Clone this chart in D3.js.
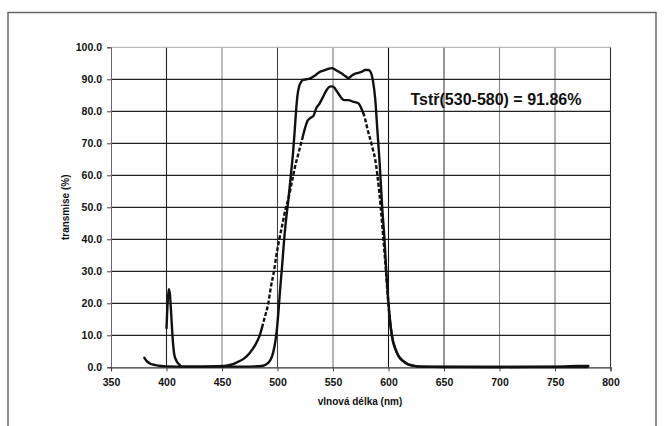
<!DOCTYPE html>
<html>
<head>
<meta charset="utf-8">
<script src="https://cdn.jsdelivr.net/npm/d3@7/dist/d3.min.js"></script>
<style>
  html, body { margin: 0; padding: 0; background: #fff; }
  svg { display: block; }
  text { font-family: "Liberation Sans", Arial, sans-serif; font-weight: bold; fill: #111; }
</style>
</head>
<body>
<svg id="chart" width="665" height="426"></svg>
<script>
// ---- data ----
const xTicks = [350, 400, 450, 500, 550, 600, 650, 700, 750, 800];
const yTicks = [0, 10, 20, 30, 40, 50, 60, 70, 80, 90, 100];
const xTitle = "vlnová délka (nm)";
const yTitle = "transmise (%)";
const annotation = "Tstř(530-580) = 91.86%";

// solid curve (upper plateau) : [wavelength nm, transmission %]
const curveSolid = [
  [380,3.0],[382,2.0],[385,1.2],[390,0.7],[395,0.4],[400,0.3],[420,0.2],[450,0.2],[470,0.2],
  [480,0.3],[485,0.4],[488,0.6],[491,1.2],[494,2.5],[496,4.5],[498,8],[499.5,12],[501,18],
  [502.5,25],[504,31],[506,40],[508,47],[510,53],[512,60],[514,67],[515.5,74],[516.7,80],
  [518,85],[519.5,87.8],[521,89],[523,89.8],[526,90],[529,90.2],[532,90.8],[535,91.5],
  [538,92.3],[542,92.8],[546,93.3],[549,93.5],[552,93.0],[555,92.4],[558,91.8],[561,91],
  [564,90.4],[567,91.2],[570,91.8],[573,92.0],[576,92.4],[579,92.9],[582,92.9],[584,92.2],
  [586,89.5],[588,84],[590,74],[592,64],[594.3,50],[596.4,40],[598,30],[600,20],[603,10],
  [607,5],[610,3],[613,2],[617,1],[622,0.5],[630,0.2],[650,0.1],[700,0.1],[750,0.2],
  [770,0.4],[780,0.4]
];

// second curve (lower plateau, with spike at 400 nm)
const curveDashed = [
  [400,12],[401,20],[402,24.4],[403,23],[404,18],[405,12],[406,7],[407,4],[409,2],[411,1],
  [413,0.4],[416,0.2],[430,0.2],[440,0.3],[450,0.4],[455,0.6],[460,1.0],[465,1.8],[470,2.8],
  [475,4.5],[480,7],[484,10],[488,15],[491.7,20],[494,25],[496.8,30],[499,35],[501.6,40],
  [504,44],[507,49],[510,53],[513,58],[516,63],[519,67],[522,71],[525,75],[527,77],[530,78],
  [532.3,78.5],[535,81],[538,82.5],[541,84.5],[544,86.5],[547,87.7],[549,87.8],[551,87.5],
  [553,86.5],[555,85.5],[557.7,84.1],[560,83.5],[563.8,83.5],[568,83.0],[572.8,82.5],
  [576,80.5],[578.8,77.8],[581,74.5],[583.3,71.6],[586,68],[588,65],[590,60],[593,50],
  [595.4,40],[597.7,30],[599.8,20],[603,10],[607,5],[613,2],[622,0.5],[630,0.2],[700,0.1],
  [780,0.1]
];
// wavelength ranges where the second curve appears dashed
const dashedRanges = [[486, 523], [577, 601]];

// ---- layout ----
const svg = d3.select("#chart");
const x = d3.scaleLinear().domain([350, 800]).range([111, 610.5]);
const y = d3.scaleLinear().domain([0, 100]).range([367.3, 47.3]);

// outer frame
svg.append("rect")
  .attr("x", 8).attr("y", 12.5).attr("width", 648).attr("height", 430)
  .attr("fill", "none").attr("stroke", "#666").attr("stroke-width", 1.5);

// gridlines
const vColor = {400:"#222",450:"#888",500:"#444",550:"#777",600:"#111",650:"#444",700:"#888",750:"#777",800:"#333"};
svg.append("g").selectAll("line").data(xTicks.filter(d => d > 350))
  .join("line")
  .attr("x1", d => x(d)).attr("x2", d => x(d))
  .attr("y1", y(100)).attr("y2", y(0))
  .attr("stroke", d => vColor[d] || "#555").attr("stroke-width", 1.1);

svg.append("g").selectAll("line").data(yTicks.filter(d => d > 0))
  .join("line")
  .attr("x1", x(350)).attr("x2", x(800))
  .attr("y1", d => y(d)).attr("y2", d => y(d))
  .attr("stroke", d => d === 100 ? "#aaa" : "#222").attr("stroke-width", d => d === 100 ? 1 : 1.2);

// axes
const yAxis = d3.axisLeft(y).tickValues(yTicks).tickSize(4).tickPadding(5).tickFormat(d3.format(".1f"));
const gy = svg.append("g").attr("transform", `translate(${x(350)},0)`).call(yAxis);
gy.select(".domain").attr("stroke", "#666");
gy.selectAll(".tick line").attr("stroke", "#444");
gy.selectAll("text").attr("font-size", 10.5).attr("font-family", "Liberation Sans, Arial, sans-serif")
  .attr("font-weight", "bold").attr("fill", "#111");

const xAxis = d3.axisBottom(x).tickValues(xTicks).tickSize(4).tickPadding(7).tickFormat(d3.format("d"));
const gx = svg.append("g").attr("transform", `translate(0,${y(0)})`).call(xAxis);
gx.select(".domain").attr("stroke", "#333").attr("stroke-width", 1.2);
gx.selectAll(".tick line").attr("stroke", "#444");
gx.selectAll("text").attr("font-size", 10.5).attr("font-family", "Liberation Sans, Arial, sans-serif")
  .attr("font-weight", "bold").attr("fill", "#111");

// axis titles
svg.append("text").attr("x", 360).attr("y", 405).attr("text-anchor", "middle")
  .attr("font-size", 10).text(xTitle);
svg.append("text").attr("transform", `translate(68.5,${(y(0)+y(100))/2}) rotate(-90)`)
  .attr("text-anchor", "middle").attr("font-size", 10).text(yTitle);

// curves
const line = d3.line().x(d => x(d[0])).y(d => y(d[1])).curve(d3.curveMonotoneX);

svg.append("path").datum(curveSolid).attr("d", line)
  .attr("fill", "none").attr("stroke", "#111").attr("stroke-width", 2.4)
  .attr("stroke-linejoin", "round").attr("stroke-linecap", "round");

const pB = svg.append("path").datum(curveDashed).attr("d", line)
  .attr("fill", "none").attr("stroke", "#111").attr("stroke-width", 2.4)
  .attr("stroke-linejoin", "round");

// build a dash array: solid outside dashedRanges, dashed inside
(function () {
  const node = pB.node();
  const total = node.getTotalLength();
  const lenAt = nm => {
    const tx = x(nm);
    let lo = 0, hi = total;
    for (let k = 0; k < 40; k++) {
      const mid = (lo + hi) / 2;
      if (node.getPointAtLength(mid).x < tx) lo = mid; else hi = mid;
    }
    return (lo + hi) / 2;
  };
  const arr = [];
  let pos = 0;
  dashedRanges.forEach(r => {
    const a = lenAt(r[0]), b = lenAt(r[1]);
    arr.push(a - pos, 0);
    let p = a;
    while (p + 6 <= b) { arr.push(4, 2); p += 6; }
    arr.push(b - p, 0);
    pos = b;
  });
  arr.push(total - pos + 10, 0);
  pB.attr("stroke-dasharray", arr.map(v => v.toFixed(2)).join(","));
})();

// annotation
svg.append("text").attr("x", 410.5).attr("y", 105).attr("font-size", 16).text(annotation);
</script>
</body>
</html>
